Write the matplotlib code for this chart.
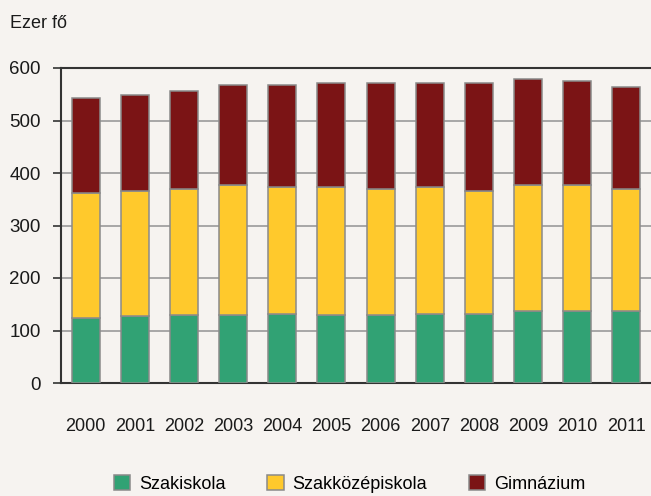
import matplotlib
matplotlib.use('Agg')
from matplotlib import pyplot as plt
import numpy as np

plt.rcParams['font.family'] = ['Liberation Sans', 'DejaVu Sans']

years = ['2000', '2001', '2002', '2003', '2004', '2005',
         '2006', '2007', '2008', '2009', '2010', '2011']
szakiskola = [124, 128, 129, 130, 131, 129, 129, 131, 131, 138, 138, 138]
szakkozep = [237, 237, 240, 247, 243, 245, 241, 243, 235, 239, 240, 232]
gimnazium = [182, 184, 188, 191, 194, 198, 202, 197, 205, 202, 197, 194]
series_names = ['Szakiskola', 'Szakközépiskola', 'Gimnázium']
colors = ['#31a274', '#ffc92c', '#7b1415']

bg = '#f6f3f0'
fig = plt.figure(figsize=(6.51, 4.96), dpi=100, facecolor=bg)
ax = fig.add_axes([61 / 651, 113 / 496, 590 / 651, 315 / 496], facecolor=bg)

x = np.arange(len(years))
bottom = np.zeros(len(years))
for vals, name, col in zip([szakiskola, szakkozep, gimnazium], series_names, colors):
    ax.bar(x, vals, bottom=bottom, width=0.57, color=col, edgecolor='#8a8a8a',
           linewidth=1.1, label=name, zorder=3)
    bottom += np.array(vals)

ax.set_xlim(-0.5, 11.5)
ax.set_ylim(0, 600)
ax.set_yticks(range(0, 601, 100))
ax.yaxis.grid(True, color='#9a9a9a', linewidth=1.2, zorder=0)
ax.set_xticks(x)
ax.set_xticklabels(years)
ax.tick_params(axis='x', length=0, pad=25, labelsize=13, colors='#1a1a1a')
ax.tick_params(axis='y', length=6, width=1.2, color='#333333', pad=8.5,
               labelsize=13.5, labelcolor='#1a1a1a')

for side in ['left', 'bottom', 'top']:
    ax.spines[side].set_color('#333333')
    ax.spines[side].set_linewidth(1.5)
ax.spines['right'].set_visible(False)
ax.spines['top'].set_zorder(4)

fig.text(10 / 651, 1 - 24 / 496, 'Ezer fő', fontsize=13, va='center', ha='left',
         color='#1a1a1a')

fig.legend(loc='center', bbox_to_anchor=(0.537, 1 - 484 / 496), ncol=3, frameon=False,
           fontsize=13, handlelength=0.9, handleheight=0.9, handletextpad=0.5,
           columnspacing=2.3)

fig.savefig('out.png', dpi=100, facecolor=bg)
